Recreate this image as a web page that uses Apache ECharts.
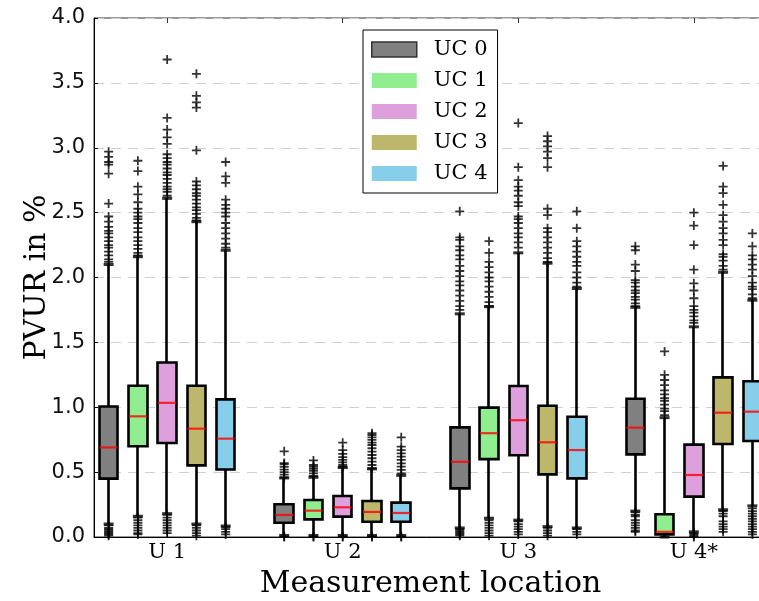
<!DOCTYPE html>
<html>
<head>
<meta charset="utf-8">
<script src="https://cdn.jsdelivr.net/npm/echarts@6/dist/echarts.min.js"></script>
<style>html,body{margin:0;padding:0;background:#fff;}#c{width:759px;height:601px;}</style>
</head>
<body>
<div id="c"></div>
<script>
// ---- data ----
const locations = ['U 1', 'U 2', 'U 3', 'U 4*'];
const ucNames = ['UC 0', 'UC 1', 'UC 2', 'UC 3', 'UC 4'];
const ucColors = ['#808080', '#90EE90', '#DDA0DD', '#BDB76B', '#87CEEB'];

// statistics indexed [uc][location]
const whiskerLow = [
  [0.10, 0.012, 0.07, 0.20],
  [0.16, 0.012, 0.145, 0.0],
  [0.18, 0.012, 0.13, 0.04],
  [0.10, 0.012, 0.08, 0.21],
  [0.085, 0.012, 0.07, 0.24]
];
const q1 = [
  [0.45, 0.11, 0.375, 0.637],
  [0.70, 0.136, 0.60, 0.02],
  [0.725, 0.157, 0.63, 0.311],
  [0.552, 0.118, 0.483, 0.717],
  [0.52, 0.118, 0.452, 0.74]
];
const median = [
  [0.69, 0.17, 0.58, 0.843],
  [0.93, 0.203, 0.80, 0.04],
  [1.034, 0.229, 0.90, 0.478],
  [0.835, 0.193, 0.73, 0.958],
  [0.758, 0.185, 0.67, 0.966]
];
const q3 = [
  [1.006, 0.252, 0.845, 1.066],
  [1.166, 0.285, 0.997, 0.175],
  [1.345, 0.316, 1.164, 0.712],
  [1.166, 0.277, 1.012, 1.23],
  [1.061, 0.265, 0.927, 1.20]
];
const whiskerHigh = [
  [2.10, 0.455, 1.72, 1.77],
  [2.16, 0.46, 1.775, 0.92],
  [2.61, 0.535, 2.19, 1.62],
  [2.43, 0.525, 2.11, 2.04],
  [2.21, 0.475, 1.915, 1.825]
];

// outliers indexed [location]
const fliersUC0 = [
  [2.97, 2.93, 2.89, 2.87, 2.80, 2.57, 2.47, 2.43, 2.39, 2.36, 2.34, 2.31, 2.28, 2.25, 2.23, 2.20, 2.17, 2.14, 2.12, 0.09, 0.07, 0.06, 0.05, 0.04, 0.03, 0.02, 0.01],
  [0.66, 0.57, 0.56, 0.54, 0.52, 0.50, 0.48, 0.46, 0.005, 0.0],
  [2.51, 2.31, 2.29, 2.24, 2.21, 2.17, 2.14, 2.09, 2.05, 2.01, 1.97, 1.94, 1.90, 1.86, 1.82, 1.78, 1.75, 0.06, 0.05, 0.04, 0.03, 0.02, 0.01],
  [2.24, 2.21, 2.10, 2.05, 1.98, 1.96, 1.93, 1.90, 1.88, 1.85, 1.83, 1.80, 1.78, 0.19, 0.17, 0.16, 0.13, 0.11, 0.09, 0.07, 0.05, 0.04]
];
const fliersUC1 = [
  [2.90, 2.82, 2.70, 2.64, 2.58, 2.53, 2.50, 2.47, 2.45, 2.42, 2.38, 2.35, 2.31, 2.28, 2.25, 2.22, 2.19, 2.17, 0.15, 0.13, 0.11, 0.09, 0.07, 0.05, 0.03, 0.02],
  [0.59, 0.555, 0.54, 0.525, 0.51, 0.49, 0.47, 0.005, 0.0],
  [2.28, 2.19, 2.12, 2.08, 2.04, 2.00, 1.97, 1.93, 1.89, 1.85, 1.81, 1.78, 0.13, 0.11, 0.09, 0.07, 0.05, 0.03, 0.01],
  [1.43, 1.25, 1.21, 1.17, 1.13, 1.10, 1.07, 1.05, 1.02, 0.99, 0.97, 0.94]
];
const fliersUC2 = [
  [3.68, 3.23, 3.14, 3.08, 3.03, 2.95, 2.92, 2.89, 2.87, 2.84, 2.81, 2.79, 2.76, 2.73, 2.70, 2.68, 2.66, 2.63, 0.17, 0.15, 0.13, 0.11, 0.09, 0.07, 0.05, 0.03],
  [0.727, 0.67, 0.64, 0.615, 0.595, 0.575, 0.555, 0.54, 0.005, 0.0],
  [3.19, 2.85, 2.75, 2.70, 2.67, 2.63, 2.58, 2.55, 2.47, 2.45, 2.42, 2.38, 2.34, 2.31, 2.27, 2.23, 0.12, 0.10, 0.08, 0.06, 0.04, 0.02],
  [2.50, 2.40, 2.25, 2.06, 1.955, 1.90, 1.84, 1.78, 1.75, 1.73, 1.70, 1.67, 1.65, 0.03, 0.02, 0.01, 0.0]
];
const fliersUC3 = [
  [3.57, 3.40, 3.35, 3.31, 2.98, 2.74, 2.71, 2.68, 2.65, 2.63, 2.60, 2.57, 2.54, 2.52, 2.49, 2.46, 2.44, 0.09, 0.07, 0.05, 0.03, 0.01],
  [0.80, 0.786, 0.768, 0.748, 0.727, 0.709, 0.684, 0.658, 0.632, 0.607, 0.581, 0.555, 0.53, 0.005, 0.0],
  [3.09, 3.05, 3.01, 2.97, 2.92, 2.85, 2.53, 2.48, 2.38, 2.35, 2.31, 2.27, 2.23, 2.19, 2.15, 2.12, 0.07, 0.05, 0.03, 0.01],
  [2.86, 2.70, 2.65, 2.56, 2.48, 2.43, 2.38, 2.34, 2.29, 2.25, 2.18, 2.16, 2.13, 2.09, 2.06, 0.20, 0.18, 0.16, 0.12, 0.10, 0.08, 0.06, 0.04]
];
const fliersUC4 = [
  [2.89, 2.78, 2.73, 2.60, 2.56, 2.53, 2.50, 2.47, 2.42, 2.38, 2.34, 2.30, 2.26, 2.23, 0.075, 0.06, 0.04, 0.02],
  [0.768, 0.696, 0.67, 0.645, 0.62, 0.594, 0.568, 0.542, 0.517, 0.491, 0.005, 0.0],
  [2.51, 2.38, 2.28, 2.24, 2.20, 2.16, 2.12, 2.09, 2.04, 2.00, 1.96, 1.93, 0.06, 0.04, 0.02],
  [2.34, 2.24, 2.17, 2.14, 2.10, 2.06, 2.01, 1.96, 1.93, 1.91, 1.87, 1.84, 0.22, 0.20, 0.18, 0.16, 0.14, 0.12, 0.10, 0.08, 0.06, 0.04, 0.02]
];
const fliers = [fliersUC0, fliersUC1, fliersUC2, fliersUC3, fliersUC4];

const yTicks = { min: 0, max: 4, interval: 0.5 };

// ---- build ----
const slotsPerLoc = 6; // 5 boxes + 1 gap
const nSlots = locations.length * slotsPerLoc - 1;
const xCats = [];
for (let i = 0; i < nSlots; i++) {
  const g = Math.floor(i / slotsPerLoc), k = i % slotsPerLoc;
  xCats.push(k === 2 ? locations[g] : '');
}
const slot = (k, g) => g * slotsPerLoc + k;
const isLabelSlot = i => i % slotsPerLoc === 2;

const series = [];
ucNames.forEach((name, k) => {
  series.push({
    name: name,
    type: 'candlestick',
    barWidth: 19,
    encode: { x: 0, y: [1, 2, 3, 4] },
    itemStyle: {
      color: ucColors[k], color0: ucColors[k],
      borderColor: '#000', borderColor0: '#000', borderColorDoji: '#000',
      borderWidth: 2.6
    },
    data: locations.map((_, g) => [slot(k, g), q1[k][g], q3[k][g], whiskerLow[k][g], whiskerHigh[k][g]]),
    z: 2
  });
});

const capData = [], medData = [], flierData = [];
ucNames.forEach((_, k) => {
  locations.forEach((_, g) => {
    capData.push([slot(k, g), whiskerLow[k][g]]);
    capData.push([slot(k, g), whiskerHigh[k][g]]);
    medData.push([slot(k, g), median[k][g]]);
    fliers[k][g].forEach(v => flierData.push([slot(k, g), v]));
  });
});

series.push({
  name: 'caps', type: 'scatter', symbol: 'rect', symbolSize: [10, 3],
  itemStyle: { color: '#000' }, data: capData, z: 3, silent: true
});
series.push({
  name: 'fliers', type: 'scatter',
  symbol: 'path://M0,4H10V6H0Z M4,0H6V10H4Z', symbolSize: 9,
  itemStyle: { color: '#000' }, data: flierData, z: 4, silent: true
});
series.push({
  name: 'medians', type: 'scatter', symbol: 'rect', symbolSize: [18, 2.2],
  itemStyle: { color: '#ff0000' }, data: medData, z: 5, silent: true
});

const chart = echarts.init(document.getElementById('c'), null, { renderer: 'canvas' });
chart.setOption({
  animation: false,
  backgroundColor: '#fff',
  grid: {
    left: 94, top: 18, width: 673, height: 519,
    show: true, borderColor: '#333', borderWidth: 1, backgroundColor: 'transparent',
    outerBoundsMode: 'none', containLabel: false
  },
  legend: {
    orient: 'vertical', left: 363, top: 30,
    padding: [9, 10, 9, 8], itemGap: 10, itemWidth: 45, itemHeight: 15,
    backgroundColor: '#fff', borderColor: '#000', borderWidth: 1, borderRadius: 0,
    selectedMode: false,
    textStyle: { fontFamily: 'DejaVu Serif', fontSize: 21, color: '#000', padding: [0, 0, 0, 12] },
    data: ucNames.map((n, k) => ({
      name: n, icon: 'rect',
      itemStyle: k === 0
        ? { color: ucColors[k], borderColor: '#333', borderWidth: 1.5 }
        : { color: ucColors[k], borderWidth: 0 }
    }))
  },
  xAxis: [{
    type: 'category', data: xCats, boundaryGap: true,
    name: 'Measurement location', nameLocation: 'middle', nameGap: 32, nameMoveOverlap: false,
    nameTextStyle: { fontFamily: 'DejaVu Serif', fontSize: 30, color: '#000' },
    axisLine: { lineStyle: { color: '#000', width: 1 } },
    axisTick: { show: true, inside: true, length: 5, alignWithLabel: true, interval: (i) => isLabelSlot(i), lineStyle: { color: '#000' } },
    axisLabel: { interval: 0, fontFamily: 'DejaVu Serif', fontSize: 21, color: '#000', margin: 5 },
    splitLine: { show: false }
  }, {
    type: 'category', data: xCats, boundaryGap: true, position: 'top',
    axisLine: { show: false },
    axisTick: { show: true, inside: true, length: 5, alignWithLabel: true, interval: (i) => isLabelSlot(i), lineStyle: { color: '#333' } },
    axisLabel: { show: false },
    splitLine: { show: false }
  }],
  yAxis: {
    type: 'value', min: yTicks.min, max: yTicks.max, interval: yTicks.interval,
    name: 'PVUR in %', nameLocation: 'middle', nameRotate: 90, nameGap: 42, nameMoveOverlap: false,
    nameTextStyle: { fontFamily: 'DejaVu Serif', fontSize: 30, color: '#000' },
    axisLine: { show: true, lineStyle: { color: '#000', width: 1 } },
    axisTick: { show: true, inside: true, length: 4, lineStyle: { color: '#000' } },
    axisLabel: { fontFamily: 'DejaVu Sans', fontSize: 21, color: '#111', margin: 9, formatter: v => v.toFixed(1) },
    splitLine: { show: true, lineStyle: { color: '#d0d0d0', type: [10, 7], width: 1 } }
  },
  series: series
});
</script>
</body>
</html>
